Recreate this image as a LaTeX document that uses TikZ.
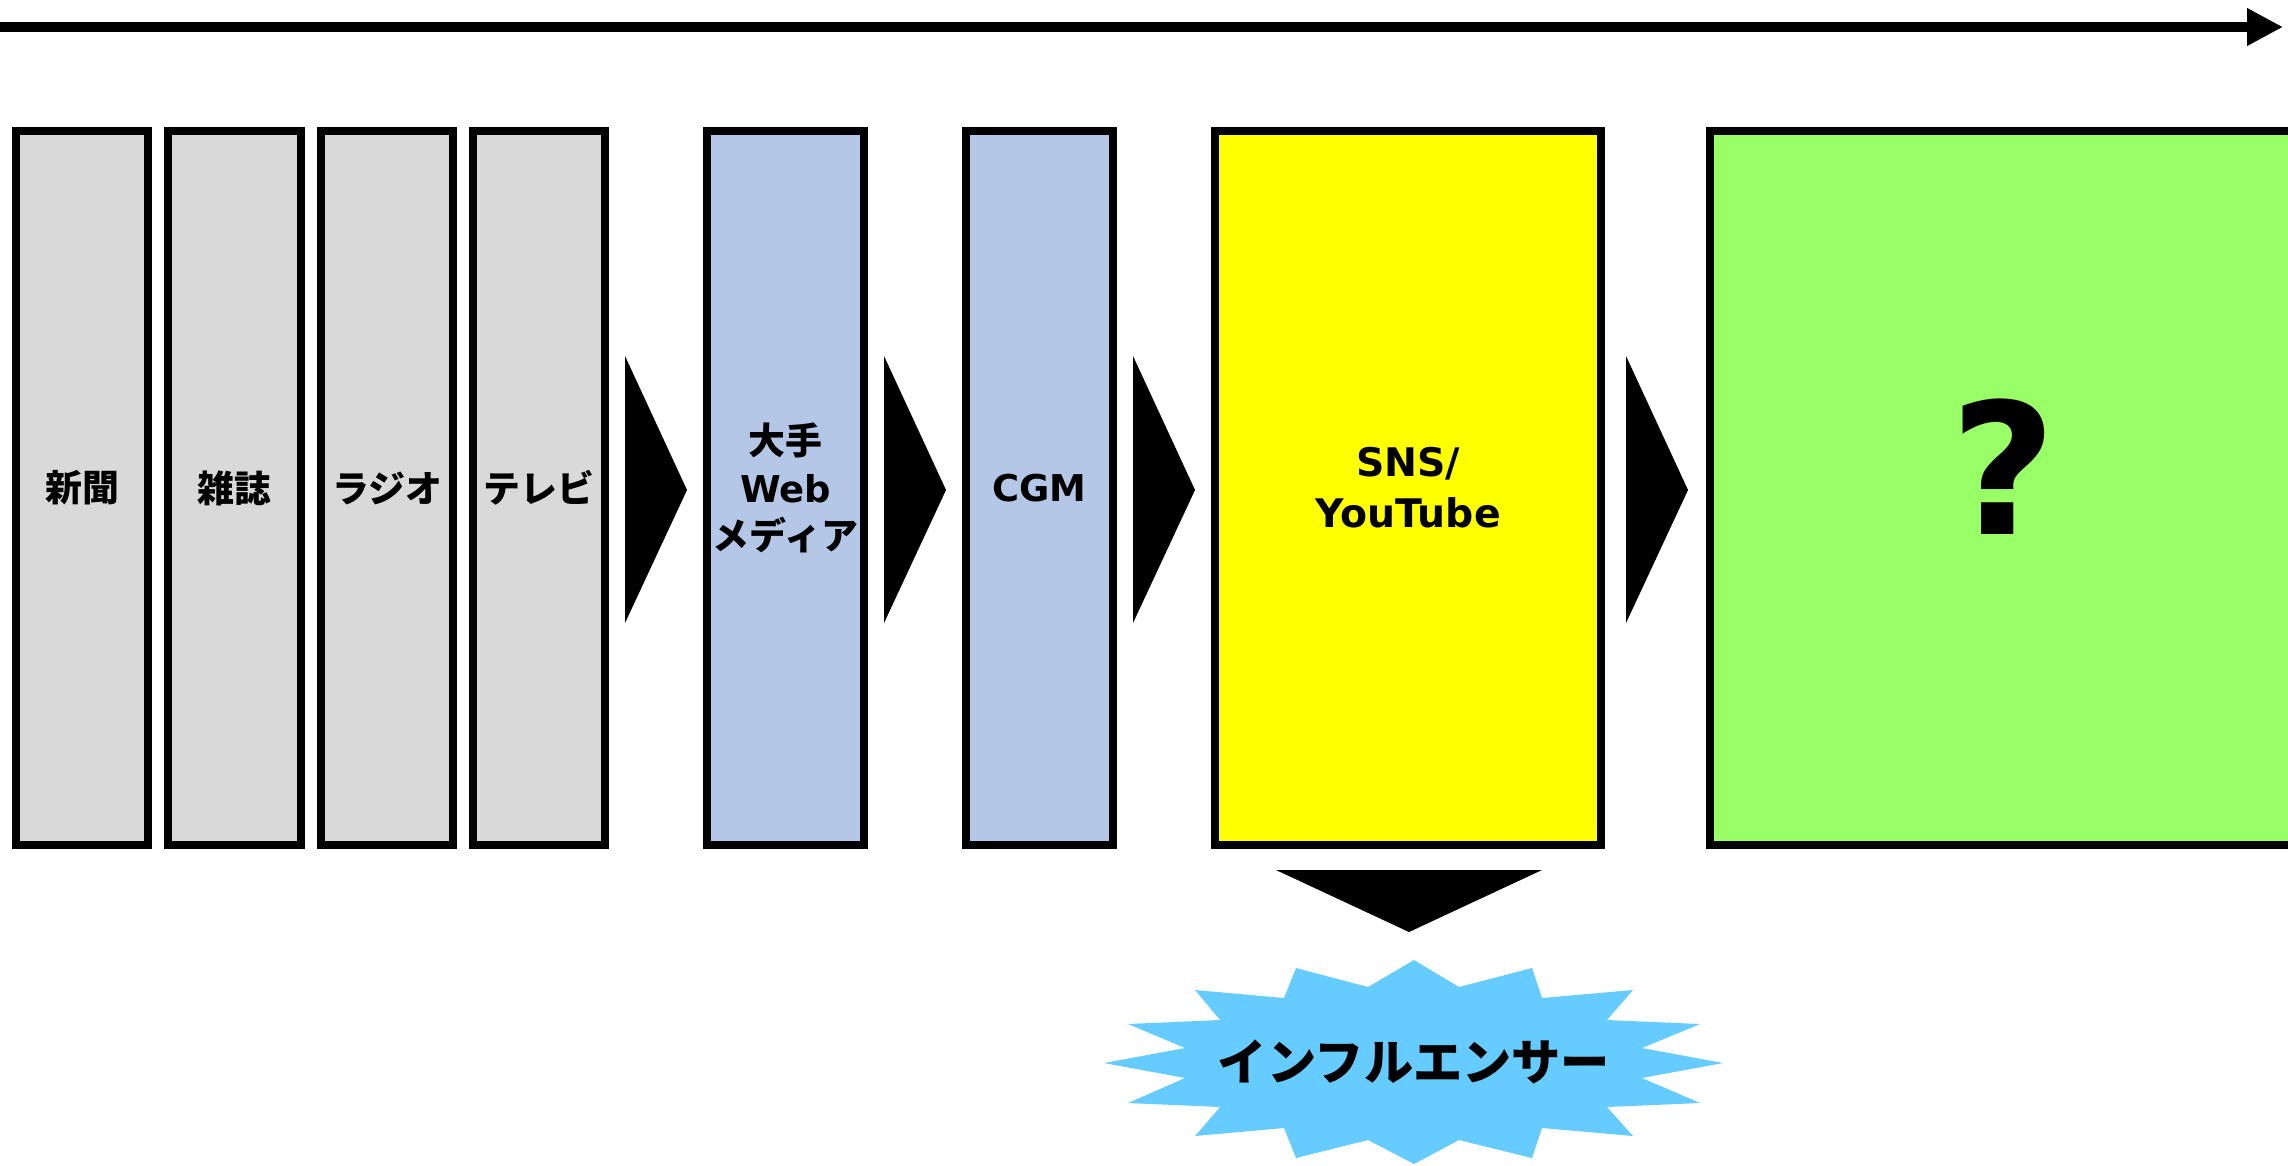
\documentclass[tikz,border=0pt]{standalone}
\usepackage{fontspec}
\setmainfont{DejaVu Sans}
\newfontfamily\jpfont{Noto Sans CJK JP}
\usetikzlibrary{arrows.meta}
\usepackage{xcolor}
\definecolor{oldgray}{HTML}{D9D9D9}
\definecolor{webblue}{HTML}{B4C7E7}
\definecolor{snsyellow}{HTML}{FFFF00}
\definecolor{nextgreen}{HTML}{99FF66}
\definecolor{burstblue}{HTML}{66CCFF}

\begin{document}
\begin{tikzpicture}[x=0.1mm, y=-0.1mm, every node/.style={font=\bfseries, align=center, inner sep=0pt},
    media/.style={draw, line width=2.1pt, minimum height=71.4mm, font=\bfseries\fontsize{10.5}{13.5}\selectfont}]
    \useasboundingbox (0,0) rectangle (2288,1165);
    \coordinate (t0) at (0,27);
    \coordinate (t1) at (2283,27);
    \draw[line width=3.1pt, -{Triangle[length=10.2pt, width=10pt]}] (t0) -- (t1);
    \node[media, fill=oldgray, minimum width=13.2mm] (news) at (82,488) {\jpfont 新聞};
    \node[media, fill=oldgray, minimum width=13.3mm] (mag) at (234.5,488) {\jpfont 雑誌};
    \node[media, fill=oldgray, minimum width=13.2mm] (radio) at (387,488) {\jpfont ラジオ};
    \node[media, fill=oldgray, minimum width=13.2mm] (tv) at (539,488) {\jpfont テレビ};
    \node[media, fill=webblue, minimum width=15.7mm] (web) at (785.5,488) {{\jpfont 大手}\\Web\\{\jpfont メディア}};
    \node[media, fill=webblue, minimum width=14.7mm] (cgm) at (1039.5,488) {CGM};
    \node[media, fill=snsyellow, minimum width=38.6mm, font=\bfseries\fontsize{11.2}{14.5}\selectfont] (sns) at (1408,488) {SNS/\\YouTube};
    \node[media, fill=nextgreen, minimum width=58.6mm, font=\bfseries\fontsize{52}{52}\selectfont, text depth=12pt] (next) at (2003,488) {?};
    \foreach \x in {625,884,1133,1626}
        \fill (\x,356) -- (\x+62,490) -- (\x,623) -- cycle;
    \fill (1276,870) -- (1542,870) -- (1409,932) -- cycle;
    \fill[burstblue] (1414,960) -- (1459,987) -- (1532,968) -- (1542,998) -- (1633,990) -- (1607,1020)
        -- (1700,1024) -- (1642,1048) -- (1723,1063) -- (1642,1078) -- (1700,1103) -- (1607,1107)
        -- (1633,1136) -- (1542,1128) -- (1532,1158) -- (1459,1140) -- (1414,1164) -- (1368,1140)
        -- (1296,1158) -- (1284,1128) -- (1195,1136) -- (1220,1107) -- (1128,1103) -- (1185,1078)
        -- (1104,1063) -- (1185,1048) -- (1128,1024) -- (1220,1020) -- (1195,990) -- (1284,998)
        -- (1296,968) -- (1368,987) -- cycle;
    \node[font=\bfseries\fontsize{14}{14}\selectfont] (infl) at (1414,1062) {\jpfont インフルエンサー};
\end{tikzpicture}
\end{document}
